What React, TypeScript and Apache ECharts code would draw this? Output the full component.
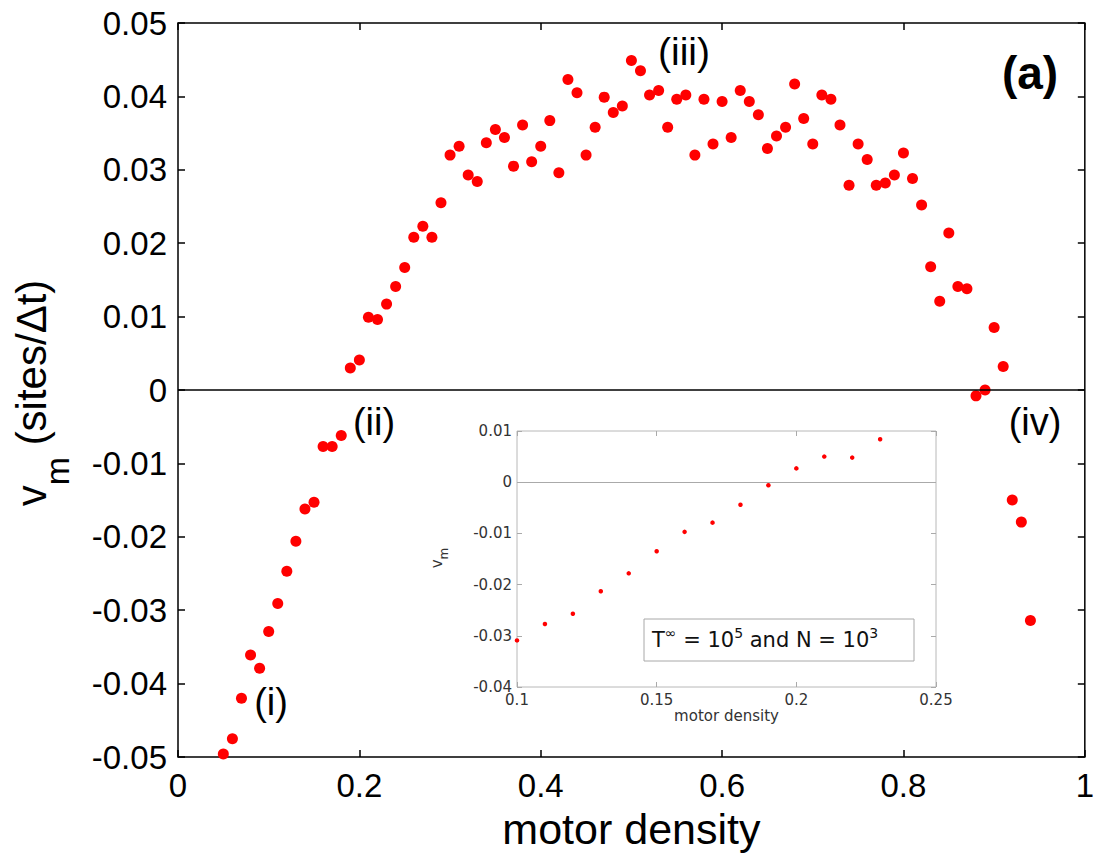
import React, { useEffect, useRef } from "react";
import * as echarts from "echarts";

// Main panel: motor density vs v_m
const mainDensity = [
  0.05, 0.06, 0.07, 0.08, 0.09, 0.1, 0.11, 0.12, 0.13, 0.14,
  0.15, 0.16, 0.17, 0.18, 0.19, 0.2, 0.21, 0.22, 0.23, 0.24,
  0.25, 0.26, 0.27, 0.28, 0.29, 0.3, 0.31, 0.32, 0.33, 0.34,
  0.35, 0.36, 0.37, 0.38, 0.39, 0.4, 0.41, 0.42, 0.43, 0.44,
  0.45, 0.46, 0.47, 0.48, 0.49, 0.5, 0.51, 0.52, 0.53, 0.54,
  0.55, 0.56, 0.57, 0.58, 0.59, 0.6, 0.61, 0.62, 0.63, 0.64,
  0.65, 0.66, 0.67, 0.68, 0.69, 0.7, 0.71, 0.72, 0.73, 0.74,
  0.75, 0.76, 0.77, 0.78, 0.79, 0.8, 0.81, 0.82, 0.83, 0.84,
  0.85, 0.86, 0.87, 0.88, 0.89, 0.9, 0.91, 0.92, 0.93, 0.94,
];
const mainVelocity = [
  -0.0496, -0.0475, -0.042, -0.0361, -0.0379, -0.0329, -0.0291, -0.0247, -0.0206, -0.0162,
  -0.0153, -0.0077, -0.0077, -0.0062, 0.003, 0.0041, 0.0099, 0.0096, 0.0117, 0.0141,
  0.0167, 0.0208, 0.0223, 0.0208, 0.0255, 0.032, 0.0332, 0.0293, 0.0284, 0.0337,
  0.0355, 0.0344, 0.0305, 0.0361, 0.0311, 0.0332, 0.0367, 0.0296, 0.0423, 0.0405,
  0.032, 0.0358, 0.0399, 0.0378, 0.0387, 0.0449, 0.0435, 0.0402, 0.0408, 0.0358,
  0.0396, 0.0402, 0.032, 0.0396, 0.0335, 0.0393, 0.0344, 0.0408, 0.0393, 0.0375,
  0.0329, 0.0346, 0.0358, 0.0417, 0.037, 0.0335, 0.0402, 0.0396, 0.0361, 0.0279,
  0.0335, 0.0314, 0.0279, 0.0282, 0.0293, 0.0323, 0.0288, 0.0252, 0.0168, 0.0121,
  0.0214, 0.0141, 0.0138, -0.0008, 0.0, 0.0085, 0.0032, -0.015, -0.018, -0.0314,
];

// Inset: low-density region
const insetDensity = [0.1, 0.11, 0.12, 0.13, 0.14, 0.15, 0.16, 0.17, 0.18, 0.19, 0.2, 0.21, 0.22, 0.23];
const insetVelocity = [
  -0.0309, -0.0277, -0.0257, -0.0213, -0.0178, -0.0135, -0.0097, -0.0079, -0.0044, -0.0006,
  0.0027, 0.005, 0.0048, 0.0084,
];

const regimeLabels = ["(i)", "(ii)", "(iii)", "(iv)"];
const panelLabel = "(a)";
const xTitle = "motor density";
const legendText = "{b|T}{p|∞}{b| = 10}{p|5}{b| and N = 10}{p|3}";

const FONT = "'Liberation Sans', Arial, Helvetica, sans-serif";
const INSET_FONT = "'DejaVu Sans', Verdana, sans-serif";

const fmt = (digits: number) => (v: number) => {
  const p = Math.pow(10, digits);
  const r = Math.round(v * p) / p;
  return r === 0 ? "0" : String(r);
};

export default function App() {
  const ref = useRef<HTMLDivElement>(null);

  useEffect(() => {
    document.body.style.margin = "0";
    if (!ref.current) return;
    const chart = echarts.init(ref.current, undefined, { renderer: "svg" });

    const mainTick = { show: true, inside: true, length: 7, lineStyle: { color: "#000", width: 1.5 } };
    const insetTick = { show: true, inside: true, length: 5, lineStyle: { color: "#aaa", width: 1 } };
    const noLine = { show: false, onZero: false };

    const option: any = {
      animation: false,
      backgroundColor: "#fff",
      grid: [
        { left: 178, top: 23, width: 907.5, height: 734, show: true, borderColor: "#000", borderWidth: 1.5, backgroundColor: "transparent" },
        { left: 517, top: 431, width: 419, height: 256, show: true, borderColor: "#b8b8b8", borderWidth: 1, backgroundColor: "#fff" },
      ],
      xAxis: [
        {
          gridIndex: 0, type: "value", min: 0, max: 1, interval: 0.2, position: "bottom",
          axisLine: noLine, splitLine: { show: false }, axisTick: mainTick,
          axisLabel: { fontSize: 33, color: "#000", fontFamily: FONT, margin: 12, formatter: fmt(1) },
          name: xTitle, nameLocation: "middle", nameGap: 50,
          nameTextStyle: { fontSize: 43, fontFamily: FONT, color: "#000" },
        },
        {
          gridIndex: 0, type: "value", min: 0, max: 1, interval: 0.2, position: "top",
          axisLine: noLine, splitLine: { show: false }, axisTick: mainTick, axisLabel: { show: false },
        },
        {
          gridIndex: 1, type: "value", min: 0.1, max: 0.25, interval: 0.05, position: "bottom",
          axisLine: noLine, splitLine: { show: false }, axisTick: insetTick,
          axisLabel: { fontSize: 15, color: "#333", fontFamily: INSET_FONT, margin: 5, formatter: fmt(2) },
          name: xTitle, nameLocation: "middle", nameGap: 21,
          nameTextStyle: { fontSize: 15, fontFamily: INSET_FONT, color: "#333" },
        },
        {
          gridIndex: 1, type: "value", min: 0.1, max: 0.25, interval: 0.05, position: "top",
          axisLine: noLine, splitLine: { show: false }, axisTick: insetTick, axisLabel: { show: false },
        },
      ],
      yAxis: [
        {
          gridIndex: 0, type: "value", min: -0.05, max: 0.05, interval: 0.01, position: "left",
          axisLine: noLine, splitLine: { show: false }, axisTick: mainTick,
          axisLabel: { fontSize: 33, color: "#000", fontFamily: FONT, margin: 11, formatter: fmt(2) },
        },
        {
          gridIndex: 0, type: "value", min: -0.05, max: 0.05, interval: 0.01, position: "right",
          axisLine: noLine, splitLine: { show: false }, axisTick: mainTick, axisLabel: { show: false },
        },
        {
          gridIndex: 1, type: "value", min: -0.04, max: 0.01, interval: 0.01, position: "left",
          axisLine: noLine, splitLine: { show: false }, axisTick: insetTick,
          axisLabel: { fontSize: 15, color: "#333", fontFamily: INSET_FONT, margin: 5, formatter: fmt(2) },
        },
        {
          gridIndex: 1, type: "value", min: -0.04, max: 0.01, interval: 0.01, position: "right",
          axisLine: noLine, splitLine: { show: false }, axisTick: insetTick, axisLabel: { show: false },
        },
      ],
      series: [
        {
          type: "scatter", xAxisIndex: 0, yAxisIndex: 0,
          data: mainDensity.map((x, i) => [x, mainVelocity[i]]),
          symbol: "circle", symbolSize: 11, itemStyle: { color: "#ff0000", opacity: 1 },
          markLine: {
            silent: true, symbol: "none", label: { show: false },
            lineStyle: { color: "#000", width: 1.5, type: "solid", opacity: 1 },
            data: [{ yAxis: 0 }],
          },
          z: 3,
        },
        {
          type: "scatter", xAxisIndex: 2, yAxisIndex: 2,
          data: insetDensity.map((x, i) => [x, insetVelocity[i]]),
          symbol: "circle", symbolSize: 4.5, itemStyle: { color: "#ff0000", opacity: 1 },
          markLine: {
            silent: true, symbol: "none", label: { show: false },
            lineStyle: { color: "#aaa", width: 1, type: "solid", opacity: 1 },
            data: [{ yAxis: 0 }],
          },
          z: 3,
        },
      ],
      graphic: [
        {
          type: "text", x: 31, y: 393, rotation: Math.PI / 2, z: 100,
          style: {
            text: "{v|v}{s|m}{t| (sites/Δt)}", align: "center", verticalAlign: "middle",
            rich: {
              v: { fontSize: 42, fontFamily: FONT, lineHeight: 86, fill: "#000" },
              s: { fontSize: 34, fontFamily: FONT, lineHeight: 34, verticalAlign: "bottom", fill: "#000" },
              t: { fontSize: 42, fontFamily: FONT, lineHeight: 86, fill: "#000" },
            },
          },
        },
        {
          type: "text", x: 437, y: 558, rotation: Math.PI / 2, z: 100,
          style: {
            text: "{v|v}{s|m}", align: "center", verticalAlign: "middle",
            rich: {
              v: { fontSize: 15, fontFamily: INSET_FONT, lineHeight: 26, fill: "#333" },
              s: { fontSize: 12, fontFamily: INSET_FONT, lineHeight: 12, verticalAlign: "bottom", fill: "#333" },
            },
          },
        },
        { type: "text", x: 271, y: 702, z: 100, style: { text: regimeLabels[0], font: `38px ${FONT}`, fill: "#000", align: "center", verticalAlign: "middle" } },
        { type: "text", x: 374, y: 422, z: 100, style: { text: regimeLabels[1], font: `38px ${FONT}`, fill: "#000", align: "center", verticalAlign: "middle" } },
        { type: "text", x: 684, y: 51, z: 100, style: { text: regimeLabels[2], font: `39px ${FONT}`, fill: "#000", align: "center", verticalAlign: "middle" } },
        { type: "text", x: 1035, y: 422, z: 100, style: { text: regimeLabels[3], font: `38px ${FONT}`, fill: "#000", align: "center", verticalAlign: "middle" } },
        { type: "text", x: 1030, y: 73, z: 100, style: { text: panelLabel, font: `bold 46px ${FONT}`, fill: "#000", align: "center", verticalAlign: "middle" } },
        {
          type: "rect", z: 100, shape: { x: 644, y: 619, width: 270, height: 42 },
          style: { fill: "#fff", stroke: "#a8a8a8", lineWidth: 1 },
        },
        {
          type: "text", x: 652, y: 640, z: 101,
          style: {
            text: legendText, align: "left", verticalAlign: "middle",
            rich: {
              b: { fontSize: 21, fontFamily: INSET_FONT, lineHeight: 28, fill: "#111" },
              p: { fontSize: 14, fontFamily: INSET_FONT, lineHeight: 14, verticalAlign: "top", fill: "#111" },
            },
          },
        },
      ],
    };

    chart.setOption(option);
    return () => chart.dispose();
  }, []);

  return <div ref={ref} style={{ width: 1097, height: 856 }} />;
}
